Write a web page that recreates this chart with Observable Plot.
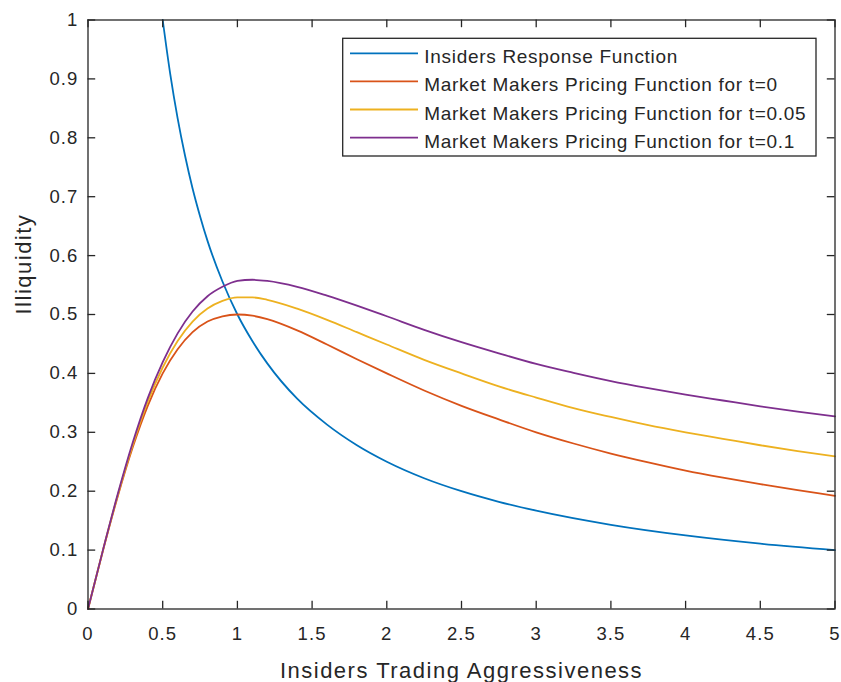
<!DOCTYPE html>
<html><head><meta charset="utf-8">
<script src="https://cdn.jsdelivr.net/npm/d3@7"></script>
<script src="https://cdn.jsdelivr.net/npm/@observablehq/plot@0.6"></script>
<style>
body{margin:0;background:#fff;}
#wrap{position:relative;width:841px;height:682px;overflow:hidden;}
#wrap svg text{font-family:"Liberation Sans",Arial,Helvetica,sans-serif;}
g[aria-label="x-axis tick label"] text, g[aria-label="y-axis tick label"] text{letter-spacing:1.1px;}
g[aria-label="text"] text{letter-spacing:1.5px;}
#legend text{letter-spacing:0.7px;}
</style></head><body><div id="wrap"></div>
<script>
// ---- data ----
const seriesNames = [
  "Insiders Response Function",
  "Market Makers Pricing Function for t=0",
  "Market Makers Pricing Function for t=0.05",
  "Market Makers Pricing Function for t=0.1"
];
const seriesColors = ["#0072BD", "#D95319", "#EDB120", "#7E2F8E"];

const responseX = [0.5,0.55,0.6,0.65,0.7,0.75,0.8,0.9,1.0,1.1,1.2,1.4,1.6,1.8,2.0,2.25,2.5,2.75,3.0,3.5,4.0,4.5,5.0];
const responseY = [1.0,0.909,0.833,0.769,0.714,0.667,0.625,0.556,0.500,0.455,0.417,0.357,0.313,0.278,0.250,0.222,0.200,0.182,0.167,0.143,0.125,0.111,0.100];

const pricingX = [0,0.1,0.2,0.3,0.4,0.5,0.6,0.7,0.8,0.9,1.0,1.1,1.2,1.4,1.6,1.8,2.0,2.25,2.5,2.75,3.0,3.25,3.5,3.75,4.0,4.25,4.5,4.75,5.0];
const pricingT0   = [0,0.099,0.192,0.275,0.345,0.400,0.441,0.470,0.488,0.497,0.500,0.498,0.492,0.473,0.449,0.424,0.400,0.371,0.345,0.322,0.300,0.281,0.264,0.249,0.235,0.223,0.212,0.202,0.192];
const pricingT005 = [0,0.100,0.194,0.279,0.352,0.410,0.455,0.488,0.510,0.523,0.529,0.529,0.525,0.510,0.491,0.470,0.449,0.423,0.400,0.378,0.359,0.341,0.326,0.312,0.300,0.289,0.278,0.268,0.259];
const pricingT01  = [0,0.100,0.196,0.283,0.358,0.419,0.468,0.505,0.531,0.547,0.557,0.559,0.557,0.547,0.532,0.515,0.497,0.474,0.453,0.434,0.416,0.401,0.387,0.375,0.364,0.354,0.344,0.335,0.327];

const xTicks = [0,0.5,1,1.5,2,2.5,3,3.5,4,4.5,5];
const xTickLabels = ["0","0.5","1","1.5","2","2.5","3","3.5","4","4.5","5"];
const yTicks = [0,0.1,0.2,0.3,0.4,0.5,0.6,0.7,0.8,0.9,1];
const yTickLabels = ["0","0.1","0.2","0.3","0.4","0.5","0.6","0.7","0.8","0.9","1"];
const xLabel = "Insiders Trading Aggressiveness";
const yLabel = "Illiquidity";

// ---- build tables ----
const curves = [
  responseX.map((x, i) => ({x, y: responseY[i]})),
  pricingX.map((x, i) => ({x, y: pricingT0[i]})),
  pricingX.map((x, i) => ({x, y: pricingT005[i]})),
  pricingX.map((x, i) => ({x, y: pricingT01[i]}))
];

// ---- layout ----
const W = 841, H = 682, mL = 87.5, mR = 6.5, mT = 19.5, mB = 73.5;
const pw = W - mL - mR, ph = H - mT - mB;
const tickLen = 7.7;
const ink = "#262626";

const chart = Plot.plot({
  width: W, height: H,
  marginLeft: mL, marginRight: mR, marginTop: mT, marginBottom: mB,
  x: {domain: [0, 5]},
  y: {domain: [0, 1]},
  style: {background: "white", color: ink, fontFamily: "'Liberation Sans', Arial, sans-serif"},
  marks: [
    ...curves.map((data, k) => Plot.line(data, {x: "x", y: "y", stroke: seriesColors[k], strokeWidth: 1.8, curve: "monotone-x"})),
    Plot.frame({stroke: ink, strokeWidth: 1.3}),
    Plot.ruleX(xTicks, {x: d => d, stroke: ink, strokeWidth: 1.3, insetTop: ph - tickLen}),
    Plot.ruleX(xTicks, {x: d => d, stroke: ink, strokeWidth: 1.3, insetBottom: ph - tickLen}),
    Plot.ruleY(yTicks, {y: d => d, stroke: ink, strokeWidth: 1.3, insetRight: pw - tickLen}),
    Plot.ruleY(yTicks, {y: d => d, stroke: ink, strokeWidth: 1.3, insetLeft: pw - tickLen}),
    Plot.axisX(xTicks, {tickSize: 0, tickPadding: 18, fontSize: 18.5, label: null,
      tickFormat: d => xTickLabels[xTicks.indexOf(d)]}),
    Plot.axisY(yTicks, {tickSize: 0, tickPadding: 9.5, fontSize: 18.5, label: null,
      tickFormat: d => yTickLabels[yTicks.indexOf(d)]}),
    Plot.text([xLabel], {text: d => d, frameAnchor: "bottom", lineAnchor: "bottom", dy: 68.5, fontSize: 22, fill: ink}),
    Plot.text([yLabel], {text: d => d, frameAnchor: "left", rotate: -90, lineAnchor: "bottom", dx: -57.5, fontSize: 22, fill: ink})
  ]
});
const wrap = document.getElementById("wrap");
wrap.appendChild(chart);

// ---- legend overlay ----
const lg = d3.create("svg").attr("id", "legend")
  .attr("width", W).attr("height", H)
  .style("position", "absolute").style("left", "0px").style("top", "0px")
  .style("pointer-events", "none");
lg.append("rect").attr("x", 342.7).attr("y", 38.3).attr("width", 473.3).attr("height", 117.7)
  .attr("fill", "white").attr("stroke", ink).attr("stroke-width", 1.3);
seriesNames.forEach((name, i) => {
  const yLine = 53.3 + i * 28.1;
  lg.append("line").attr("x1", 350).attr("x2", 418).attr("y1", yLine).attr("y2", yLine)
    .attr("stroke", seriesColors[i]).attr("stroke-width", 1.8);
  lg.append("text").attr("x", 424.3).attr("y", 63.3 + i * 28.1)
    .attr("font-size", 19).attr("fill", ink).text(name);
});
wrap.appendChild(lg.node());
</script></body></html>
